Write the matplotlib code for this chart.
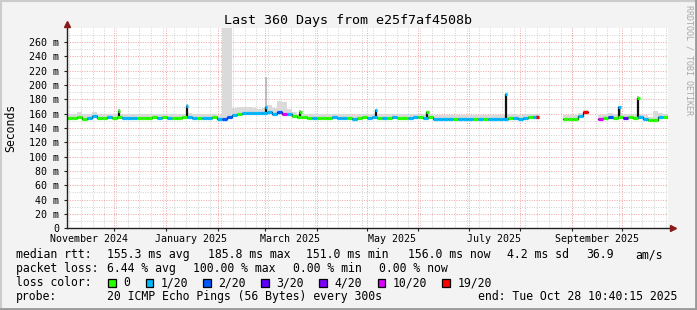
import numpy as np
import pandas as pd
import matplotlib
matplotlib.use("Agg")
import matplotlib.pyplot as plt
import matplotlib.transforms as mtransforms
from matplotlib.patches import Rectangle
from matplotlib.lines import Line2D

W, H = 697, 310
START = pd.Timestamp("2024-11-02 10:40:15")
SPAN = 360      # days
STEP = 3        # days per sample
MONO = "DejaVu Sans Mono"
nan = np.nan

# median rtt per 3-day sample (ms), nan = no data
median_ms = [
    154, 154, 156, 153, 154, 157, 154, 154, 155, 154,
    155, 154, 154, 154, 154, 154, 154, 155, 154, 155,
    154, 154, 154, 155, 156, 154, 154, 154, 154, 155,
    153, 152, 155, 158, 160, 161, 161, 161, 161, 161,
    163, 160, 162, 160, 160, 157, 155, 155, 154, 154,
    154, 154, 154, 155, 154, 154, 154, 153, 154, 155,
    154, 156, 154, 154, 154, 155, 154, 154, 154, 155,
    155, 154, 155, 153, 153, 153, 153, 153, 153, 153,
    153, 153, 153, 153, 153, 153, 153, 153, 154, 154,
    153, 154, 155, 156, nan, nan, nan, nan, nan, 153,
    153, 153, 157, 162, nan, nan, 153, 154, 156, 154,
    156, 154, 155, 154, 155, 153, 151, 151, 155, 156,
]
# loss class per sample (index into loss_colors)
loss_idx = [
    0, 0, 0, 0, 1, 1, 0, 0, 1, 0,
    0, 1, 1, 1, 0, 0, 0, 0, 1, 0,
    1, 0, 0, 0, 1, 1, 0, 1, 1, 0,
    1, 2, 2, 1, 0, 1, 1, 1, 1, 1,
    1, 1, 2, 5, 1, 0, 0, 0, 0, 1,
    0, 0, 0, 1, 1, 1, 0, 1, 0, 0,
    1, 1, 0, 1, 0, 1, 0, 0, 1, 1,
    0, 1, 0, 1, 1, 1, 1, 0, 1, 1,
    1, 0, 1, 0, 1, 1, 1, 1, 0, 1,
    1, 1, 0, 1, 0, 0, 0, 0, 0, 0,
    0, 0, 1, 6, 0, 0, 5, 0, 2, 0,
    0, 3, 0, 0, 1, 1, 0, 0, 1, 0,
]
# upper edge of the smoke per sample (ms)
smoke_ms = [
    160, 159, 162, 159, 159, 162, 160, 159, 160, 159,
    160, 159, 159, 159, 159, 159, 159, 160, 159, 160,
    159, 159, 159, 160, 161, 159, 159, 159, 160, 160,
    158, 300, 300, 168, 170, 170, 169, 168, 167, 168,
    172, 168, 177, 176, 166, 162, 160, 160, 159, 159,
    159, 159, 160, 160, 159, 159, 159, 158, 159, 160,
    159, 160, 159, 159, 159, 160, 159, 159, 159, 160,
    160, 159, 160, 158, 158, 158, 158, 158, 158, 158,
    158, 158, 158, 158, 158, 158, 158, 158, 159, 159,
    158, 159, 160, 160, nan, nan, nan, nan, nan, 158,
    158, 158, 161, 165, nan, nan, 158, 159, 161, 159,
    161, 159, 160, 159, 160, 158, 155, 164, 161, 160,
]

# short spikes (day offset from start)
spike_day = [31.4, 72.1, 119.4, 139.8, 185.1, 215.8, 263.0, 281.7, 330.8, 342.0]
spike_ms = [164, 171, 169, 163, 165, 162, 187, 156, 170, 182]
spike_loss = [0, 1, 1, 0, 1, 0, 1, 6, 1, 0]
spike_smoke = [166, 173, 211, 165, 167, 164, 188, 158, 171, 184]

loss_labels = ["0", "1/20", "2/20", "3/20", "4/20", "10/20", "19/20"]
loss_colors = ["#26ff00", "#00b8ff", "#0059ff", "#5e00ff", "#7e00ff", "#dd00ff", "#ff0000"]

month_labels = ["November 2024", "January 2025", "March 2025",
                "May 2025", "July 2025", "September 2025"]
label_months = ["2024-11-16", "2025-01-16", "2025-03-16",
                "2025-05-16", "2025-07-16", "2025-09-16"]

rtt_stats = ["155.3 ms avg", "185.8 ms max", "151.0 ms min", "156.0 ms now",
             "4.2 ms sd", "36.9", "am/s"]
loss_stats = ["6.44 % avg", "100.00 % max", "0.00 % min", "0.00 % now"]
probe_text = "20 ICMP Echo Pings (56 Bytes) every 300s"
end_text = "end: Tue Oct 28 10:40:15 2025"


def days(ts):
    return (pd.Timestamp(ts) - START) / pd.Timedelta(days=1)


def fx(x):
    return x / W


def fy(y):
    return 1 - y / H


fig = plt.figure(figsize=(W / 100, H / 100), dpi=100, facecolor="#f3f3f3")
L, R, T, B = 66.5, 668.3, 27.7, 228.3
ax = fig.add_axes([fx(L), fy(B), fx(R - L), (B - T) / H])
ax.set_facecolor("white")
ax.set_xlim(0, SPAN)
ax.set_ylim(0, 280)
for s in ax.spines.values():
    s.set_visible(False)

# grid
mondays = pd.date_range("2024-11-04", "2025-10-27", freq="7D")
month_starts = pd.date_range("2024-12-01", "2025-10-01", freq="MS")
for d in mondays:
    ax.axvline(days(d), color="#cfcfcf", lw=0.7, ls=(0, (1, 1.5)), zorder=0.5)
for d in month_starts:
    ax.axvline(days(d), color="#f2a0a0", lw=0.7, ls=(0, (1, 1.5)), zorder=0.6)
for v in range(10, 280, 10):
    col = "#f2a0a0" if v % 20 == 0 else "#cfcfcf"
    ax.axhline(v, color=col, lw=0.7, ls=(0, (1, 1.5)), zorder=0.5)

# data
med = np.array(median_ms, dtype=float)
smk = np.array(smoke_ms, dtype=float)
loss = np.array(loss_idx)
t0 = np.arange(len(med)) * STEP
ok = ~np.isnan(med)

ax.bar(t0[ok], smk[ok] - med[ok] + 2, bottom=med[ok] - 2, width=STEP, align="edge",
       color="#dadada", lw=0, zorder=1)
sp_base = np.array([med[int(d // STEP)] for d in spike_day])
ax.bar(spike_day, np.array(spike_smoke) - sp_base, bottom=sp_base, width=1.4,
       color="#bdbdbd", lw=0, zorder=1.1)

ax.step(np.append(t0, SPAN), np.append(med, med[-1]), where="post",
        color="#111111", lw=0.9, zorder=2)
ax.vlines(spike_day, sp_base, spike_ms, color="#111111", lw=1.6, zorder=2.1)
ax.hlines(med[ok], t0[ok], t0[ok] + STEP, colors=[loss_colors[i] for i in loss[ok]],
          lw=2.3, zorder=3)
ax.hlines(spike_ms, np.array(spike_day) - 0.6, np.array(spike_day) + 0.8,
          colors=[loss_colors[i] for i in spike_loss], lw=2.3, zorder=3.1)

# axes, ticks, arrows
ax.add_line(Line2D([0, 0], [0, 284], color="#202020", lw=1, clip_on=False, zorder=4))
ax.add_line(Line2D([0, 362], [0, 0], color="#202020", lw=1, clip_on=False, zorder=4))
ax.plot([0], [285.5], marker="^", ms=5, color="#8b1a1a", clip_on=False, zorder=5)
ax.plot([363], [0], marker=">", ms=5, color="#8b1a1a", clip_on=False, zorder=5)

yt = list(range(0, 261, 20))
ax.set_yticks(yt)
ax.set_yticklabels(["0" if v == 0 else f"{v} m" for v in yt], family=MONO, fontsize=7.2)
ax.set_xticks([days(d) for d in month_starts])
ax.set_xticklabels([])
ax.tick_params(axis="both", length=2, width=0.8, color="#202020", pad=3.2)
trans = mtransforms.blended_transform_factory(ax.transData, ax.transAxes)
for lab, d in zip(month_labels, label_months):
    ax.text(days(d), -10.2 / (B - T), lab, transform=trans, ha="center", va="center",
            family=MONO, fontsize=7.2)

# titles
fig.text(0.5, fy(24.2), "Last 360 Days from e25f7af4508b", ha="center", va="baseline",
         family=MONO, fontsize=9.6)
fig.text(fx(11), fy(127.5), "Seconds", rotation=90, ha="center", va="center",
         family=MONO, fontsize=8.3)
fig.text(fx(688.5), fy(5), "RRDTOOL / TOBI OETIKER", rotation=270, ha="center", va="top",
         family=MONO, fontsize=6, color="#a8a8a8")

# legend
FS = 8.3
rows = [258.3, 272.3, 286.3, 300.0]
fig.text(fx(16), fy(rows[0]), "median rtt:", family=MONO, fontsize=FS, va="baseline")
for s, x in zip(rtt_stats, [107.3, 208.3, 306.3, 407.7, 506.7, 586.7, 635]):
    fig.text(fx(x), fy(rows[0]), s, family=MONO, fontsize=FS, va="baseline")
fig.text(fx(16), fy(rows[1]), "packet loss:", family=MONO, fontsize=FS, va="baseline")
for s, x in zip(loss_stats, [107.3, 193.3, 293.3, 379.3]):
    fig.text(fx(x), fy(rows[1]), s, family=MONO, fontsize=FS, va="baseline")
fig.text(fx(16), fy(rows[2]), "loss color:", family=MONO, fontsize=FS, va="baseline")
box_x = [108, 145.7, 203, 261, 319.3, 377.7, 442.3]
for lab, col, x in zip(loss_labels, loss_colors, box_x):
    fig.add_artist(Rectangle((fx(x), fy(286.5)), fx(7.5), 7.5 / H, transform=fig.transFigure,
                             facecolor=col, edgecolor="black", lw=0.9))
    fig.text(fx(x + 15), fy(rows[2]), lab, family=MONO, fontsize=FS, va="baseline")
fig.text(fx(16), fy(rows[3]), "probe:", family=MONO, fontsize=FS, va="baseline")
fig.text(fx(107.3), fy(rows[3]), probe_text, family=MONO, fontsize=FS, va="baseline")
fig.text(fx(478.3), fy(rows[3]), end_text, family=MONO, fontsize=FS, va="baseline")

# frame
fig.add_artist(Line2D([0, 1], [fy(1), fy(1)], transform=fig.transFigure, color="#cccccc", lw=1.5))
fig.add_artist(Line2D([fx(1), fx(1)], [0, 1], transform=fig.transFigure, color="#cccccc", lw=1.5))
fig.add_artist(Line2D([0, 1], [fy(308.5), fy(308.5)], transform=fig.transFigure, color="#999999", lw=2))
fig.add_artist(Line2D([fx(695.5), fx(695.5)], [0, 1], transform=fig.transFigure, color="#999999", lw=2))

fig.savefig("out.png", dpi=100, facecolor=fig.get_facecolor())
